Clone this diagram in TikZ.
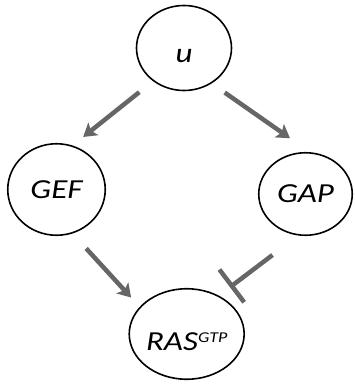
\documentclass[tikz,border=0pt]{standalone}
\usepackage{fontspec}
\setmainfont{Carlito}[FakeStretch=1.2]
\usetikzlibrary{shapes.geometric,arrows.meta}
\definecolor{linkgray}{HTML}{666666}
\begin{document}
\begin{tikzpicture}[x=1pt,y=-1pt,
  state/.style={ellipse, draw, line width=1.6pt, inner sep=0pt,
    font=\fontsize{27.5}{27.5}\selectfont\itshape},
  act/.style={draw=linkgray, line width=4.5pt,
    -{Stealth[length=13pt,width=16pt,inset=3pt]}},
  inh/.style={draw=linkgray, line width=4.5pt, -{Bar[width=41pt]}}]
  \useasboundingbox (0,0) rectangle (354,385);

  % species
  \node[state, minimum width=95pt, minimum height=85pt,
        text height=30pt, text depth=0pt] (u) at (184,48) {u};
  \node[state, minimum width=97.5pt, minimum height=91.5pt] (GEF) at (56.5,189.5) {GEF};
  \node[state, minimum width=93.5pt, minimum height=82.5pt] (GAP) at (305.5,194) {GAP};
  \node[state, minimum size=90.5pt, text height=32pt, text depth=0pt] (RAS) at (186.7,334)
        {RAS\raisebox{8pt}{\fontsize{15}{15}\selectfont GTP}};

  % interactions
  \draw[act, shorten <=17.6pt, shorten >=13.6pt] (u.227.6) -- (GEF.70.2);
  \draw[act, shorten <=15.9pt, shorten >=24.3pt] (u.308.8) -- (GAP.84.2);
  \draw[act, shorten <=20.2pt, shorten >=12.6pt] (GEF.290.8) -- (RAS.150.3);
  \draw[inh, shorten <=32.2pt, shorten >=13.9pt] (GAP.260.6) -- (RAS.50.6);
\end{tikzpicture}
\end{document}
